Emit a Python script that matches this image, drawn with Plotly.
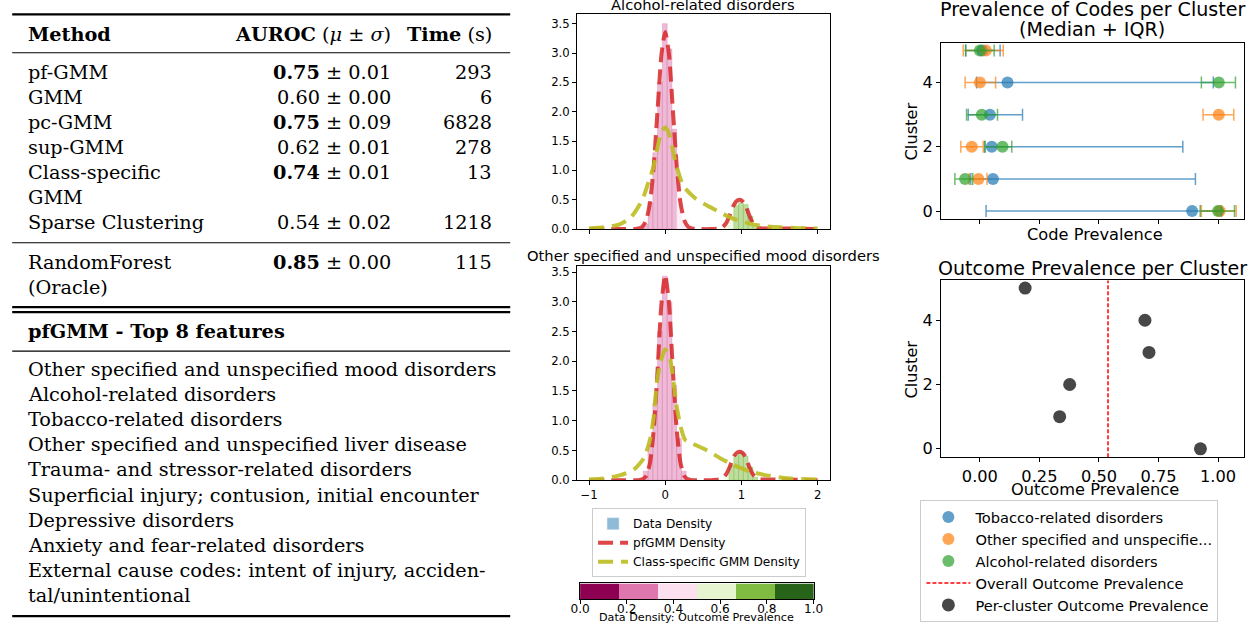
import plotly.graph_objects as go

W, H = 1254, 630

# ------------------------------------------------------------------ data
table_methods = [["pf-GMM"], ["GMM"], ["pc-GMM"], ["sup-GMM"], ["Class-specific", "GMM"], ["Sparse Clustering"]]
table_auroc_mean = [0.75, 0.60, 0.75, 0.62, 0.74, 0.54]
table_auroc_std = [0.01, 0.00, 0.09, 0.01, 0.01, 0.02]
table_auroc_best = [True, False, True, False, True, False]
table_time_s = [293, 6, 6828, 278, 13, 1218]
oracle_method = ["RandomForest", "(Oracle)"]
oracle_auroc_mean = 0.85
oracle_auroc_std = 0.00
oracle_time_s = 115

top_features = [
    ["Other specified and unspecified mood disorders"],
    ["Alcohol-related disorders"],
    ["Tobacco-related disorders"],
    ["Other specified and unspecified liver disease"],
    ["Trauma- and stressor-related disorders"],
    ["Superficial injury; contusion, initial encounter"],
    ["Depressive disorders"],
    ["Anxiety and fear-related disorders"],
    ["External cause codes: intent of injury, acciden-", "tal/unintentional"],
]

hist_bin_width = 0.0625
alc_bin_centers = [-0.25625, -0.19375, -0.13125, -0.06875, -0.00625, 0.05625, 0.11875, 0.18125, 0.24375,
                   0.80625, 0.86875, 0.93125, 0.99375, 1.05625, 1.11875, 1.18125]
alc_bin_density = [0.08, 0.45, 1.3, 2.5, 3.5, 3.07, 1.7, 0.55, 0.12,
                   0.06, 0.2, 0.4, 0.45, 0.42, 0.22, 0.06]
alc_bin_prevalence = [0.25, 0.25, 0.25, 0.25, 0.25, 0.25, 0.25, 0.42, 0.42,
                      0.58, 0.58, 0.75, 0.75, 0.75, 0.75, 0.75]
alc_pf_x = [-1.0, -0.6, -0.4, -0.35, -0.3, -0.25, -0.2, -0.15, -0.1, -0.05, 0.0, 0.05, 0.1, 0.15, 0.2, 0.25,
            0.3, 0.35, 0.45, 0.6, 0.7, 0.75, 0.8, 0.85, 0.9, 0.95, 1.0, 1.05, 1.1, 1.15, 1.2, 1.25, 1.3,
            1.5, 1.75, 2.0]
alc_pf_y = [0.0, 0.0, 0.0, 0.01, 0.04, 0.15, 0.45, 1.09, 2.04, 2.97, 3.36, 2.97, 2.04, 1.09, 0.45, 0.15,
            0.04, 0.01, 0.0, 0.0, 0.01, 0.03, 0.1, 0.245, 0.41, 0.49, 0.49, 0.41, 0.245, 0.1, 0.03, 0.015, 0.01,
            0.01, 0.005, 0.0]
alc_cs_x = [-1.0, -0.8, -0.6, -0.45, -0.3, -0.22, -0.15, -0.09, -0.04, 0.0, 0.04, 0.09, 0.15, 0.24, 0.39,
            0.55, 0.7, 0.85, 1.0, 1.15, 1.3, 1.5, 1.75, 2.0]
alc_cs_y = [0.01, 0.03, 0.08, 0.2, 0.5, 0.8, 1.08, 1.46, 1.68, 1.73, 1.66, 1.4, 1.07, 0.73, 0.53,
            0.4, 0.3, 0.2, 0.13, 0.08, 0.05, 0.03, 0.015, 0.01]

mood_bin_centers = [-0.25625, -0.19375, -0.13125, -0.06875, -0.00625, 0.05625, 0.11875, 0.18125, 0.24375,
                    0.80625, 0.86875, 0.93125, 0.99375, 1.05625, 1.11875, 1.18125]
mood_bin_density = [0.15, 0.6, 1.3, 2.5, 3.43, 3.0, 1.6, 0.7, 0.15,
                    0.08, 0.25, 0.42, 0.46, 0.4, 0.22, 0.05]
mood_bin_prevalence = [0.25, 0.25, 0.25, 0.25, 0.25, 0.25, 0.25, 0.25, 0.25,
                       0.58, 0.75, 0.75, 0.75, 0.75, 0.75, 0.75]
mood_pf_x = [-1.0, -0.6, -0.4, -0.35, -0.3, -0.25, -0.2, -0.15, -0.1, -0.05, 0.0, 0.05, 0.1, 0.15, 0.2, 0.25,
             0.3, 0.35, 0.45, 0.6, 0.7, 0.75, 0.8, 0.85, 0.9, 0.95, 1.0, 1.05, 1.1, 1.15, 1.2, 1.25, 1.3,
             1.5, 1.75, 2.0]
mood_pf_y = [0.0, 0.0, 0.0, 0.0, 0.014, 0.07, 0.29, 0.86, 1.86, 2.96, 3.45, 2.96, 1.86, 0.86, 0.29, 0.07,
             0.014, 0.0, 0.0, 0.0, 0.01, 0.03, 0.1, 0.235, 0.4, 0.47, 0.47, 0.4, 0.235, 0.1, 0.03, 0.015, 0.01,
             0.01, 0.005, 0.0]
mood_cs_x = [-1.0, -0.8, -0.6, -0.41, -0.28, -0.2, -0.15, -0.11, -0.065, 0.0, 0.065, 0.11, 0.15, 0.2, 0.26,
             0.35, 0.55, 0.72, 0.89, 1.1, 1.33, 1.6, 2.0]
mood_cs_y = [0.01, 0.03, 0.08, 0.18, 0.37, 0.68, 1.08, 1.64, 1.97, 2.2, 2.03, 1.64, 1.24, 0.91, 0.68,
             0.62, 0.5, 0.37, 0.26, 0.15, 0.08, 0.03, 0.01]

colorbar_edges = [0.0, 1 / 6, 2 / 6, 3 / 6, 4 / 6, 5 / 6, 1.0]
colorbar_ticks = [0.0, 0.2, 0.4, 0.6, 0.8, 1.0]

clusters = [0, 1, 2, 3, 4, 5]
code_names = ["Tobacco-related disorders", "Other specified and unspecifie...", "Alcohol-related disorders"]
code_median = [
    [0.891, 0.055, 0.05, 0.042, 0.116, 0.01],
    [1.007, -0.006, -0.034, 1.003, 0.0, 0.025],
    [1.0, -0.062, 0.095, 0.008, 1.003, 0.0],
]
code_q1 = [
    [0.026, -0.038, 0.02, -0.049, -0.014, -0.06],
    [0.93, -0.045, -0.08, 0.937, -0.062, -0.07],
    [0.925, -0.105, 0.022, -0.056, 0.93, -0.059],
]
code_q3 = [
    [1.014, 0.905, 0.852, 0.179, 0.98, 0.085],
    [1.076, 0.03, 0.014, 1.066, 0.066, 0.098],
    [1.069, -0.03, 0.134, 0.074, 1.073, 0.06],
]
outcome_prevalence = [0.926, 0.335, 0.377, 0.71, 0.693, 0.19]
overall_prevalence = 0.538

# ------------------------------------------------------------------ layout helpers
# The photographed page comes out slightly shrunk (about 1.4 %) and centred, so target
# positions are pre-scaled to land where the reference draws them.
SX, BX, SY = 0.986, 8.8, 0.987


def X(r):
    return (r - BX) / SX


def Y(r):
    return r / SY


def FS(s):
    return round(s / SX, 2)


def px(r):
    return min(max(X(r) / W, 0.0), 1.0)


def py(r):
    return min(max(1 - Y(r) / H, 0.0), 1.0)


PIYG6 = ["#8e0152", "#de77ae", "#fde0ef", "#e6f5d0", "#7fbc41", "#276419"]
TAB = ["#1f77b4", "#ff7f0e", "#2ca02c"]
SANS = "DejaVu Sans"
SERIF = "DejaVu Serif"


def rgba(hexc, a):
    return f"rgba({int(hexc[1:3], 16)},{int(hexc[3:5], 16)},{int(hexc[5:7], 16)},{a})"


def level_color(p, a):
    return rgba(PIYG6[min(int(p * 6), 5)], a)


fig = go.Figure()

panels = [
    ("x", "y", alc_bin_centers, alc_bin_density, alc_bin_prevalence, alc_pf_x, alc_pf_y, alc_cs_x, alc_cs_y, True),
    ("x2", "y2", mood_bin_centers, mood_bin_density, mood_bin_prevalence, mood_pf_x, mood_pf_y, mood_cs_x, mood_cs_y, False),
]
for xa, ya, bc, bd, bp, pfx, pfy, csx, csy, first in panels:
    fig.add_trace(go.Bar(
        x=bc, y=bd, width=hist_bin_width, xaxis=xa, yaxis=ya, showlegend=False,
        marker=dict(color=[level_color(p, 0.5) for p in bp],
                    line=dict(color=[level_color(p, 0.45) for p in bp], width=0.8)),
    ))
    fig.add_trace(go.Scatter(
        x=pfx, y=pfy, mode="lines", xaxis=xa, yaxis=ya, name="pfGMM Density",
        showlegend=first, legend="legend", legendrank=2,
        line=dict(color="rgba(214,39,40,0.85)", width=4, dash="15px,7px", shape="spline", smoothing=0.6),
    ))
    fig.add_trace(go.Scatter(
        x=csx, y=csy, mode="lines", xaxis=xa, yaxis=ya, name="Class-specific GMM Density",
        showlegend=first, legend="legend", legendrank=3,
        line=dict(color="rgba(188,189,34,0.9)", width=4, dash="15px,8px", shape="spline", smoothing=0.6),
    ))

fig.add_trace(go.Bar(x=[None], y=[None], xaxis="x", yaxis="y", name="Data Density",
                     marker=dict(color=rgba(TAB[0], 0.5)), legend="legend", legendrank=1))

cb_centers = [(a + b) / 2 for a, b in zip(colorbar_edges[:-1], colorbar_edges[1:])]
cscale = []
for i, c in enumerate(PIYG6):
    cscale.append([colorbar_edges[i], c])
    cscale.append([colorbar_edges[i + 1], c])
fig.add_trace(go.Heatmap(z=[cb_centers], x=cb_centers, y=[0], zmin=0, zmax=1, colorscale=cscale,
                         showscale=False, xaxis="x5", yaxis="y5", hoverinfo="skip"))

for k in range(3):
    med = code_median[k]
    fig.add_trace(go.Scatter(
        x=med, y=clusters, mode="markers", xaxis="x3", yaxis="y3", name=code_names[k],
        legend="legend2", legendrank=k + 1,
        marker=dict(size=12, color=rgba(TAB[k], 0.7)),
        error_x=dict(type="data", symmetric=False,
                     array=[b - m for b, m in zip(code_q3[k], med)],
                     arrayminus=[m - a for a, m in zip(code_q1[k], med)],
                     color=rgba(TAB[k], 0.7), thickness=1.5, width=6),
    ))

fig.add_trace(go.Scatter(
    x=outcome_prevalence, y=clusters, mode="markers", xaxis="x4", yaxis="y4",
    name="Per-cluster Outcome Prevalence", legend="legend2", legendrank=5,
    marker=dict(size=13, color="#474747"),
))
fig.add_shape(type="line", xref="x4", yref="y4 domain", x0=overall_prevalence, x1=overall_prevalence,
              y0=0, y1=1, line=dict(color="red", width=1.5, dash="4px,2px"),
              showlegend=True, name="Overall Outcome Prevalence", legend="legend2", legendrank=4)

ann = []


def text(t, x, y, size=19, family=SERIF, xanchor="left", angle=0, yanchor="middle", raw_y=None):
    ann.append(dict(text=t, x=px(x), y=py(y) if raw_y is None else raw_y, xref="paper", yref="paper",
                    showarrow=False, xanchor=xanchor, yanchor=yanchor, textangle=angle,
                    align=xanchor if xanchor != "center" else "center",
                    font=dict(family=family, size=FS(size), color="black")))


X_LEFT, X_AUROC, X_TIME = 25, 393, 494
text("<b>Method</b>", X_LEFT, 33)
text("<b>AUROC</b> (<i>μ</i> ± <i>σ</i>)", X_AUROC, 33, xanchor="right")
text("<b>Time</b> (s)", X_TIME, 33, xanchor="right")

row_y = 71
for lines, m, s, best, t in zip(table_methods, table_auroc_mean, table_auroc_std, table_auroc_best, table_time_s):
    for j, ln in enumerate(lines):
        text(ln, X_LEFT, row_y + 25 * j)
    num = f"<b>{m:.2f}</b>" if best else f"{m:.2f}"
    text(f"{num} ± {s:.2f}", X_AUROC, row_y, xanchor="right")
    text(str(t), X_TIME, row_y, xanchor="right")
    row_y += 25 * len(lines)

for j, ln in enumerate(oracle_method):
    text(ln, X_LEFT, 261 + 25 * j)
text(f"<b>{oracle_auroc_mean:.2f}</b> ± {oracle_auroc_std:.2f}", X_AUROC, 261, xanchor="right")
text(str(oracle_time_s), X_TIME, 261, xanchor="right")

text("<b>pfGMM - Top 8 features</b>", X_LEFT, 330)
fy = 368
for lines in top_features:
    for ln in lines:
        text(ln, X_LEFT, fy)
        fy += 25.2

for yy, wdt in [(13.3, 2.2), (51.7, 1.1), (241.7, 1.1), (306, 2.2), (311, 2.2), (350, 1.1), (615, 2.2)]:
    fig.add_shape(type="line", xref="paper", yref="paper", x0=px(11), x1=px(510), y0=py(yy), y1=py(yy),
                  line=dict(color="black", width=wdt))

text("Alcohol-related disorders", 703.5, 3, size=14.5, family=SANS, xanchor="center")
text("Other specified and unspecified mood disorders", 703.5, 254, size=14.5, family=SANS, xanchor="center")
text("Data Density: Outcome Prevalence", 697, 0, size=11, family=SANS, xanchor="center",
     yanchor="bottom", raw_y=-3 / H)
text("Prevalence of Codes per Cluster", 1093, 7.5, size=18.8, family=SANS, xanchor="center")
text("(Median + IQR)", 1093, 28, size=18.8, family=SANS, xanchor="center")
text("Outcome Prevalence per Cluster", 1093, 266.5, size=18.8, family=SANS, xanchor="center")
text("Code Prevalence", 1096, 233, size=16, family=SANS, xanchor="center")
text("Outcome Prevalence", 1096, 488, size=16, family=SANS, xanchor="center")
text("Cluster", 912, 130, size=16, family=SANS, xanchor="center", angle=-90)
text("Cluster", 912, 368, size=16, family=SANS, xanchor="center", angle=-90)


def axis(size, **kw):
    d = dict(showline=True, linecolor="black", linewidth=1, mirror=True, ticks="outside", ticklen=4,
             tickwidth=1, tickcolor="black", showgrid=False, zeroline=False,
             tickfont=dict(family=SANS, size=FS(size), color="black"))
    d.update(kw)
    return d


def dom_x(a, b):
    return [px(a), px(b)]


def dom_y(top, bottom):
    return [py(bottom), py(top)]


# right-hand panels: the right spine cannot go past the page edge, so the range is trimmed accordingly
R_LEFT, R_RIGHT, R_LO, R_HI = 941.7, 1251.0, -0.163, 1.133
r_edge_dom = W - 0.5
r_edge_ref = r_edge_dom * SX + BX
r_hi = R_LO + (r_edge_ref - R_LEFT) / (R_RIGHT - R_LEFT) * (R_HI - R_LO)

mid_x = dict(domain=dom_x(577, 830), range=[-1.157, 2.157], tickvals=[-1, 0, 1, 2])
mid_yticks = [0, 0.5, 1.0, 1.5, 2.0, 2.5, 3.0, 3.5]
right_x = dict(domain=[px(R_LEFT), r_edge_dom / W], range=[R_LO, r_hi], tickvals=[0, 0.25, 0.5, 0.75, 1.0])
right_y = dict(range=[-0.26, 5.24], tickvals=[0, 2, 4])

fig.update_layout(
    width=W, height=H, margin=dict(l=0, r=0, t=0, b=0),
    paper_bgcolor="white", plot_bgcolor="white", barmode="overlay",
    font=dict(family=SANS, color="black"),
    xaxis=axis(11.5, anchor="y", showticklabels=False, **mid_x),
    yaxis=axis(11.5, anchor="x", domain=dom_y(13, 228), range=[0, 3.665], tickvals=mid_yticks, tickformat=".1f"),
    xaxis2=axis(11.5, anchor="y2", **mid_x),
    yaxis2=axis(11.5, anchor="x2", domain=dom_y(265, 479), range=[0, 3.6], tickvals=mid_yticks, tickformat=".1f"),
    xaxis3=axis(16, anchor="y3", showticklabels=False, **right_x),
    yaxis3=axis(16, anchor="x3", domain=dom_y(41.7, 218.3), **right_y),
    xaxis4=axis(16, anchor="y4", tickformat=".2f", **right_x),
    yaxis4=axis(16, anchor="x4", domain=dom_y(279.3, 456), **right_y),
    xaxis5=axis(12, anchor="y5", domain=dom_x(580, 814), range=[0, 1], tickvals=colorbar_ticks,
                tickformat=".1f", ticklabelstandoff=-6, ticklen=3.5),
    yaxis5=axis(12, anchor="x5", domain=dom_y(582.3, 598.3), range=[-0.5, 0.5], ticks="", showticklabels=False),
    legend=dict(x=px(592), y=py(507), xanchor="left", yanchor="top", bgcolor="white",
                bordercolor="#cccccc", borderwidth=1, font=dict(family=SANS, size=FS(12), color="black"),
                itemwidth=30, traceorder="normal"),
    legend2=dict(x=px(921), y=1 - 629 / H, xanchor="left", yanchor="bottom", bgcolor="white",
                 bordercolor="#cccccc", borderwidth=1, font=dict(family=SANS, size=14.6, color="black"),
                 itemwidth=44, traceorder="normal"),
    annotations=ann,
)

fig.write_html("out.html", post_script="document.body.style.margin='0';")
